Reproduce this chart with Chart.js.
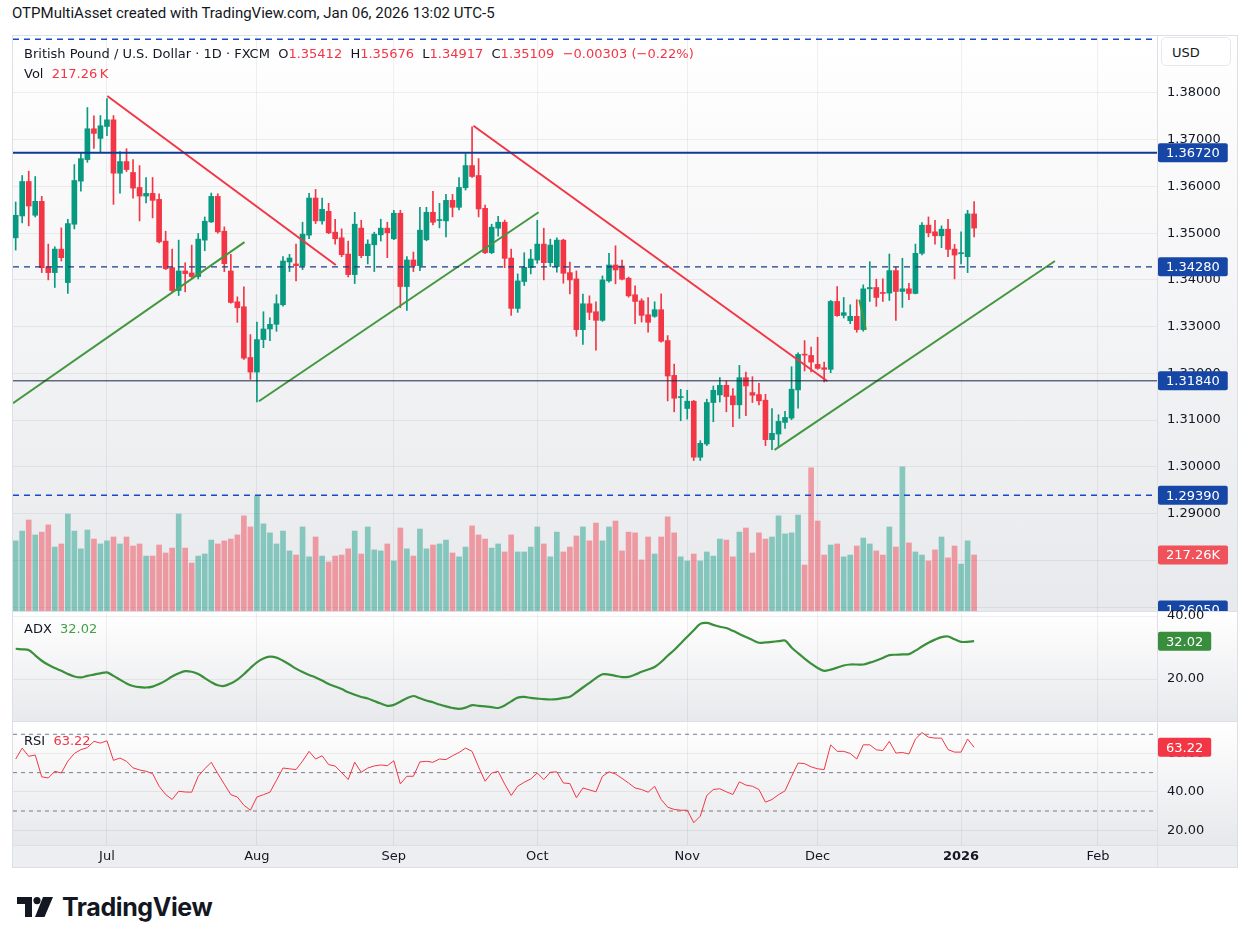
<!DOCTYPE html>
<html>
<head>
<meta charset="utf-8">
<script src="https://cdn.jsdelivr.net/npm/chart.js@4.4.1/dist/chart.umd.min.js"></script>
<style>
  body { margin: 0; width: 1249px; height: 944px; position: relative; overflow: hidden; background: #fff;
    font-family: "DejaVu Sans", sans-serif; color: #131722; }
  .abs { position: absolute; }
  .pane { position: absolute; left: 13px; width: 1224px; }
  #mainPane { top: 36px; height: 575px; background: linear-gradient(#ffffff, #e8e9ec); }
  #adxBg { top: 612px; height: 109px; background: linear-gradient(#ffffff, #e8e9ec); }
  #adxPane { top: 606px; height: 115px; }
  #rsiPane { top: 722px; height: 146px; background: linear-gradient(#ffffff 0%, #e7e8eb 84%, #edeef1 84%, #edeef1 100%); }
  .sep { position: absolute; background: #dcdfe6; }
  .txt { position: absolute; font-size: 13px; line-height: 18px; white-space: pre; z-index: 5; }
  .dn { color: #f23645; }
  .gr { color: #43a047; }
  #usd { left: 1161px; top: 37px; width: 70px; height: 29px; border-radius: 5px; background: #fff;
    border: 1px solid #e6e8ee; font-size: 13px; line-height: 29px; padding-left: 10px; box-sizing: border-box; z-index: 5; }
</style>
</head>
<body>
<div class="abs" style="left:12px;top:3px;font:15px/20px Roboto, sans-serif">OTPMultiAsset created with TradingView.com, Jan 06, 2026 13:02 UTC-5</div>

<div id="mainPane" class="pane"><canvas id="mainCanvas"></canvas></div>
<div id="adxBg" class="pane"></div>
<div id="rsiPane" class="pane"><canvas id="rsiCanvas"></canvas></div>

<div class="sep" style="left:12px;top:35px;width:1226px;height:1px"></div>
<div class="sep" style="left:12px;top:867px;width:1226px;height:1px"></div>
<div class="sep" style="left:12px;top:35px;width:1px;height:833px"></div>
<div class="sep" style="left:1237px;top:35px;width:1px;height:833px"></div>
<div class="sep" style="left:1157px;top:36px;width:1px;height:832px"></div>
<div class="sep" style="left:13px;top:611px;width:1224px;height:1px"></div>
<div class="sep" style="left:13px;top:721px;width:1224px;height:1px"></div>
<div class="sep" style="left:13px;top:845px;width:1224px;height:1px"></div>

<div id="adxPane" class="pane"><canvas id="adxCanvas"></canvas></div>

<div id="usd" class="abs">USD</div>
<div id="legend1" class="txt" style="left:24px;top:45px"></div>
<div id="legend2" class="txt" style="left:24px;top:65px"></div>
<div id="legendAdx" class="txt" style="left:24px;top:620px"></div>
<div id="legendRsi" class="txt" style="left:24px;top:732px"></div>

<div class="abs" style="left:17px;top:893px;height:28px;display:flex;align-items:center">
  <svg width="36" height="20" viewBox="0 0 36 20">
    <path d="M0 0h15v20H8V7H0z" fill="#131722"/>
    <circle cx="20" cy="3.6" r="3.6" fill="#131722"/>
    <path d="M26 0h10l-8.5 20h-9.5z" fill="#131722"/>
  </svg>
  <span style="font:700 25px Inter, Roboto, sans-serif;margin-left:9px;letter-spacing:-0.4px">TradingView</span>
</div>

<script>
const FONT = '"DejaVu Sans", sans-serif'
const UP = '#089981'
const DOWN = '#f23645'
const GRID = 'rgba(42, 46, 57, 0.07)'
const X_MIN = -0.41
const X_MAX = 175.05

// daily GBP/USD bars, Jun 11 2025 .. Jan 6 2026
const opens = [
  1.34900, 1.35368, 1.36106, 1.35383, 1.35681, 1.34276, 1.34156, 1.34659, 1.33943, 1.35191,
  1.36113, 1.36574, 1.37234, 1.37028, 1.37283, 1.37425, 1.36283, 1.36532, 1.36298, 1.35978,
  1.35794, 1.35851, 1.35723, 1.34829, 1.34262, 1.33773, 1.34191, 1.34149, 1.34071, 1.34851,
  1.35241, 1.35787, 1.35042, 1.34191, 1.33532, 1.33425, 1.32340, 1.32028, 1.32723, 1.32950,
  1.33050, 1.33468, 1.34383, 1.34341, 1.34305, 1.34958, 1.35752, 1.35263, 1.35468, 1.35021,
  1.34901, 1.34553, 1.34114, 1.35107, 1.34518, 1.34752, 1.34965, 1.35107, 1.34880, 1.35426,
  1.33858, 1.34426, 1.34305, 1.34858, 1.35447, 1.35270, 1.35263, 1.35702, 1.35553, 1.35972,
  1.36447, 1.36234, 1.35532, 1.34582, 1.35106, 1.35234, 1.34468, 1.33390, 1.33965, 1.34262,
  1.34425, 1.34766, 1.34369, 1.34284, 1.34851, 1.34156, 1.34021, 1.32936, 1.33489, 1.33319,
  1.33135, 1.33979, 1.34319, 1.34298, 1.34035, 1.33681, 1.33553, 1.33255, 1.33220, 1.33362,
  1.32702, 1.31957, 1.31482, 1.31248, 1.31404, 1.30206, 1.30489, 1.31376, 1.31539, 1.31745,
  1.31518, 1.31327, 1.31908, 1.31589, 1.31546, 1.31426, 1.30582, 1.30702, 1.30951, 1.31043,
  1.31646, 1.32405, 1.32383, 1.32192, 1.32121, 1.32086, 1.33539, 1.33241, 1.33128, 1.33220,
  1.32937, 1.33809, 1.33837, 1.33731, 1.33717, 1.34199, 1.33752, 1.33809, 1.33710, 1.34568,
  1.35171, 1.35029, 1.34944, 1.35085, 1.34660, 1.34560, 1.34497, 1.35412
]
const highs = [
  1.35666, 1.36234, 1.36326, 1.36212, 1.35787, 1.34766, 1.34709, 1.35113, 1.35298, 1.36468,
  1.36730, 1.37688, 1.37510, 1.37517, 1.37879, 1.37517, 1.36744, 1.36808, 1.36574, 1.36446,
  1.36191, 1.36191, 1.35844, 1.35042, 1.34659, 1.34851, 1.34368, 1.34744, 1.34993, 1.35347,
  1.35858, 1.35844, 1.35134, 1.34546, 1.33638, 1.33851, 1.32829, 1.33099, 1.33319, 1.33191,
  1.33681, 1.34497, 1.34546, 1.34766, 1.35234, 1.35851, 1.35936, 1.35752, 1.35639, 1.35298,
  1.35092, 1.34830, 1.35447, 1.35277, 1.34858, 1.35021, 1.35298, 1.35234, 1.35490, 1.35490,
  1.34497, 1.34596, 1.35553, 1.35553, 1.35894, 1.35639, 1.35830, 1.35830, 1.36192, 1.36702,
  1.37277, 1.36596, 1.35603, 1.35192, 1.35362, 1.35280, 1.34659, 1.34128, 1.34581, 1.34652,
  1.35276, 1.35106, 1.34872, 1.34901, 1.34872, 1.34383, 1.34191, 1.33695, 1.33659, 1.33532,
  1.34085, 1.34567, 1.34730, 1.34425, 1.34060, 1.33872, 1.33596, 1.33624, 1.33532, 1.33702,
  1.32808, 1.32198, 1.31659, 1.31638, 1.31420, 1.30560, 1.31447, 1.31730, 1.31908, 1.31837,
  1.31674, 1.32171, 1.32029, 1.31929, 1.31788, 1.31553, 1.31249, 1.31114, 1.31185, 1.32142,
  1.32440, 1.32702, 1.32561, 1.32773, 1.32241, 1.33561, 1.33858, 1.33624, 1.33468, 1.33575,
  1.33894, 1.34390, 1.34015, 1.34022, 1.34554, 1.34270, 1.34461, 1.33929, 1.34766, 1.35227,
  1.35348, 1.35277, 1.35156, 1.35298, 1.34759, 1.35029, 1.35490, 1.35676
]
const lows = [
  1.34638, 1.35220, 1.35156, 1.35347, 1.34156, 1.34000, 1.33837, 1.34404, 1.33709, 1.35092,
  1.35900, 1.36517, 1.36815, 1.36730, 1.37085, 1.35617, 1.35858, 1.36319, 1.35751, 1.35262,
  1.35645, 1.35326, 1.34790, 1.34220, 1.33750, 1.33666, 1.33744, 1.34050, 1.34021, 1.34624,
  1.35227, 1.35000, 1.34177, 1.33500, 1.33092, 1.32300, 1.31872, 1.31390, 1.32550, 1.32700,
  1.32900, 1.33440, 1.34178, 1.33979, 1.34220, 1.34880, 1.35206, 1.35192, 1.34990, 1.34766,
  1.34497, 1.34064, 1.33922, 1.34475, 1.34341, 1.34178, 1.34830, 1.34475, 1.34860, 1.33404,
  1.33348, 1.34178, 1.34199, 1.34837, 1.35178, 1.35114, 1.34922, 1.35348, 1.35497, 1.35922,
  1.36192, 1.35348, 1.34560, 1.34560, 1.34936, 1.34262, 1.33241, 1.33305, 1.33879, 1.34128,
  1.34354, 1.34000, 1.34284, 1.34163, 1.33929, 1.33702, 1.32794, 1.32617, 1.33149, 1.32496,
  1.33113, 1.33950, 1.33915, 1.34000, 1.33631, 1.33064, 1.33099, 1.32879, 1.33200, 1.32670,
  1.31411, 1.31177, 1.30986, 1.31021, 1.30135, 1.30135, 1.30454, 1.30964, 1.31390, 1.31177,
  1.30858, 1.31036, 1.31093, 1.31376, 1.31327, 1.30454, 1.30369, 1.30419, 1.30823, 1.31008,
  1.31256, 1.32050, 1.32029, 1.32086, 1.31816, 1.32015, 1.33220, 1.33185, 1.33064, 1.32880,
  1.32901, 1.33539, 1.33433, 1.33539, 1.33561, 1.33135, 1.33412, 1.33575, 1.33700, 1.34532,
  1.34922, 1.34766, 1.34688, 1.34497, 1.34022, 1.34341, 1.34156, 1.34917
]
const closes = [
  1.35383, 1.36106, 1.35581, 1.35681, 1.34262, 1.34156, 1.34659, 1.34475, 1.35205, 1.36127,
  1.36595, 1.37234, 1.37134, 1.37298, 1.37425, 1.36283, 1.36532, 1.36361, 1.35964, 1.35794,
  1.35851, 1.35702, 1.34815, 1.34241, 1.33773, 1.34191, 1.34135, 1.34071, 1.34872, 1.35255,
  1.35787, 1.35028, 1.34347, 1.33517, 1.33404, 1.32326, 1.32028, 1.32723, 1.32950, 1.33050,
  1.33490, 1.34404, 1.34468, 1.34305, 1.34979, 1.35752, 1.35263, 1.35511, 1.35007, 1.34880,
  1.34539, 1.34114, 1.35192, 1.34518, 1.34766, 1.34979, 1.35107, 1.35007, 1.35426, 1.33858,
  1.34426, 1.34305, 1.35064, 1.35447, 1.35234, 1.35284, 1.35702, 1.35553, 1.35979, 1.36447,
  1.36213, 1.35518, 1.34582, 1.35128, 1.35234, 1.34461, 1.33390, 1.33979, 1.34269, 1.34447,
  1.34766, 1.34369, 1.34745, 1.34851, 1.34142, 1.34000, 1.32936, 1.33489, 1.33305, 1.33135,
  1.34000, 1.34319, 1.34213, 1.34014, 1.33659, 1.33539, 1.33241, 1.33092, 1.33362, 1.32688,
  1.31943, 1.31468, 1.31495, 1.31404, 1.30206, 1.30503, 1.31376, 1.31638, 1.31745, 1.31503,
  1.31327, 1.31908, 1.31731, 1.31532, 1.31412, 1.30582, 1.30717, 1.30972, 1.31057, 1.31660,
  1.32405, 1.32390, 1.32241, 1.32107, 1.32086, 1.33539, 1.33234, 1.33298, 1.33220, 1.32937,
  1.33809, 1.33837, 1.33624, 1.33710, 1.34199, 1.33752, 1.33809, 1.33710, 1.34568, 1.35171,
  1.35007, 1.34944, 1.35085, 1.34653, 1.34532, 1.34582, 1.35412, 1.35109
]
// volume in thousands
const volumes = [
  272, 310, 353, 295, 306, 334, 248, 260, 376, 310,
  241, 314, 279, 260, 272, 287, 260, 287, 252, 260,
  213, 213, 256, 225, 244, 376, 244, 186, 213, 221,
  275, 260, 272, 279, 295, 369, 326, 446, 338, 303,
  260, 310, 233, 217, 326, 210, 287, 213, 190, 213,
  217, 241, 310, 221, 326, 237, 233, 260, 194, 322,
  241, 213, 318, 241, 256, 260, 275, 225, 210, 248,
  330, 295, 279, 244, 260, 229, 295, 229, 229, 248,
  326, 260, 210, 306, 229, 248, 291, 326, 272, 341,
  272, 326, 349, 233, 306, 303, 198, 287, 221, 287,
  365, 303, 210, 194, 221, 194, 229, 213, 279, 275,
  210, 306, 322, 225, 303, 279, 287, 369, 299, 303,
  372, 178, 555, 349, 217, 256, 260, 210, 217, 252,
  283, 260, 233, 217, 326, 248, 559, 264, 229, 217,
  194, 237, 287, 206, 252, 182, 272, 217.26
]
const adx = [
  29.6, 29.4, 29.2, 27.5, 25.8, 24.5, 23.5, 22.6, 21.6, 20.8,
  20.5, 21.0, 21.4, 21.8, 22.1, 21.0, 19.8, 18.6, 17.8, 17.4,
  17.3, 17.6, 18.4, 19.5, 20.8, 21.8, 22.5, 22.3, 21.6, 20.3,
  19.0, 18.0, 17.8, 18.6, 19.8, 21.5, 23.5, 25.3, 26.5, 27.1,
  26.8, 25.8, 24.6, 23.3, 22.2, 21.3, 20.5, 19.5, 18.4, 17.6,
  16.8, 15.8, 15.0, 14.3, 13.8, 13.0, 12.2, 11.5, 11.8, 12.8,
  13.9, 14.6, 13.9, 13.2, 12.6, 11.9, 11.3, 10.8, 10.5, 10.9,
  11.7, 11.5, 11.3, 11.1, 10.8, 11.6, 12.9, 14.1, 14.3, 14.0,
  13.8, 13.6, 13.5, 13.6, 14.0, 14.4, 15.8, 17.3, 18.8, 20.3,
  21.5, 21.4, 21.0, 20.6, 20.7, 21.4, 22.3, 23.0, 23.8, 25.4,
  27.4, 29.2, 31.3, 33.4, 35.5, 37.5, 37.8, 37.2, 36.6, 36.2,
  35.3, 34.3, 33.3, 32.4, 31.5, 31.6, 31.8, 32.0, 32.2, 30.0,
  28.2, 26.5, 24.9, 23.5, 22.6, 23.0, 23.6, 24.3, 24.6, 24.6,
  24.6, 25.2, 25.9, 26.7, 27.6, 27.7, 27.8, 27.9, 29.0, 30.3,
  31.5, 32.5, 33.3, 33.5, 32.6, 31.8, 31.8, 32.02
]
const rsi = [
  57.1, 62.8, 58.5, 59.2, 47.8, 47.2, 50.7, 49.8, 56.0, 60.0,
  62.0, 63.0, 66.3, 65.4, 66.6, 56.4, 57.6, 55.9, 52.5, 51.4,
  50.7, 49.5, 42.9, 38.6, 36.0, 40.3, 39.9, 39.8, 48.1, 52.0,
  55.4, 49.5, 44.0, 38.5, 37.3, 33.0, 30.4, 37.3, 38.5, 39.8,
  46.0, 52.4, 52.0, 51.6, 56.0, 61.1, 57.1, 58.8, 54.2, 53.4,
  50.0, 46.4, 55.4, 50.2, 52.4, 53.5, 54.0, 53.6, 56.2, 44.1,
  48.1, 48.1, 55.6, 55.9, 55.4, 57.1, 56.8, 58.8, 60.5, 62.8,
  61.1, 53.0, 45.5, 49.8, 50.7, 44.0, 38.1, 42.9, 45.0, 46.7,
  49.8, 46.4, 50.2, 50.4, 44.6, 44.3, 36.9, 42.0, 41.0, 40.0,
  48.1, 50.4, 49.3, 47.0, 44.6, 42.0, 41.2, 39.8, 42.9, 36.0,
  32.0, 30.8, 30.4, 30.4, 23.9, 27.3, 38.1, 41.2, 41.6, 40.0,
  38.6, 45.2, 43.5, 42.9, 41.2, 34.6, 36.0, 38.5, 40.5, 48.0,
  55.0, 54.7, 53.0, 52.0, 51.6, 64.5, 61.1, 61.1, 60.0, 57.1,
  64.5, 64.5, 61.9, 61.5, 66.3, 60.2, 60.5, 59.7, 67.5, 70.9,
  68.5, 68.0, 68.0, 62.0, 60.7, 60.7, 67.5, 63.22
]
const priceTicks = [1.27, 1.28, 1.29, 1.30, 1.31, 1.32, 1.33, 1.34, 1.35, 1.36, 1.37, 1.38]
const monthIndex = [14, 37, 58, 80, 103, 123, 145, 166]
const monthLabels = ['Jul', 'Aug', 'Sep', 'Oct', 'Nov', 'Dec', '2026', 'Feb']
// horizontal levels and trend lines (bar index, price)
const levelTop = 1.3915
const levelStrong = 1.3672
const levelMid = 1.3428
const levelLow = 1.3184
const levelSupport = 1.2939
const levelOffscreen = 1.2605
const redLines = [[14.05, 1.37936, 49.1, 1.34319], [70.2, 1.37298, 124.5, 1.31830]]
const greenLines = [[-0.41, 1.31362, 35.1, 1.34809], [37.3, 1.31404, 80.2, 1.35447],
  [116.4, 1.30362, 159.4, 1.34404], [129.4, 1.33574, 130.4, 1.32936]]

const last = closes.length - 1
const candleColors = closes.map(function (c, i) { return c >= opens[i] ? UP : DOWN })
const volColors = closes.map(function (c, i) { return c >= opens[i] ? 'rgba(8,153,129,0.45)' : 'rgba(242,54,69,0.45)' })

// legends
const chg = closes[last] - closes[last - 1]
const pct = chg / closes[last - 1] * 100
const fmt = function (v) { return v.toFixed(5) }
const minus = function (s) { return s.replace('-', '\u2212') }
document.getElementById('legend1').innerHTML =
  'British Pound / U.S. Dollar \u00b7 1D \u00b7 FXCM  O<span class="dn">' + fmt(opens[last]) +
  '</span>  H<span class="dn">' + fmt(highs[last]) + '</span>  L<span class="dn">' + fmt(lows[last]) +
  '</span>  C<span class="dn">' + fmt(closes[last]) + '  ' + minus(chg.toFixed(5)) + ' (' + minus(pct.toFixed(2)) + '%)</span>'
document.getElementById('legend2').innerHTML = 'Vol  <span class="dn">' + volumes[last].toFixed(2) + '\u202fK</span>'
document.getElementById('legendAdx').innerHTML = 'ADX  <span class="gr">' + adx[last].toFixed(2) + '</span>'
document.getElementById('legendRsi').innerHTML = 'RSI  <span class="dn">' + rsi[last].toFixed(2) + '</span>'

Chart.defaults.font.family = FONT
Chart.defaults.font.size = 13
Chart.defaults.color = '#131722'

function roundRect(ctx, x, y, w, h, r) {
  ctx.beginPath()
  ctx.moveTo(x + r, y)
  ctx.lineTo(x + w - r, y)
  ctx.quadraticCurveTo(x + w, y, x + w, y + r)
  ctx.lineTo(x + w, y + h - r)
  ctx.quadraticCurveTo(x + w, y + h, x + w - r, y + h)
  ctx.lineTo(x + r, y + h)
  ctx.quadraticCurveTo(x, y + h, x, y + h - r)
  ctx.lineTo(x, y + r)
  ctx.quadraticCurveTo(x, y, x + r, y)
  ctx.closePath()
}

// coloured value boxes on the right axis
const sideLabels = {
  id: 'sideLabels',
  afterDraw: function (chart, args, opts) {
    const ctx = chart.ctx
    const area = chart.chartArea
    ;(opts.items || []).forEach(function (it) {
      let y = chart.scales[it.axis].getPixelForValue(it.value)
      y = Math.min(y, area.bottom - 1)
      ctx.save()
      ctx.font = '13px ' + FONT
      const w = ctx.measureText(it.text).width + 16
      ctx.fillStyle = it.bg
      roundRect(ctx, area.right + 1, y - 9.5, w, 19, 2)
      ctx.fill()
      ctx.fillStyle = '#ffffff'
      ctx.textBaseline = 'middle'
      ctx.fillText(it.text, area.right + 9, y + 1)
      ctx.restore()
    })
  }
}

function xAxis(showLabels) {
  return {
    type: 'linear',
    min: X_MIN,
    max: X_MAX,
    offset: false,
    afterBuildTicks: function (s) { s.ticks = monthIndex.map(function (v) { return { value: v } }) },
    grid: { color: GRID, drawTicks: false, offset: false },
    border: { display: false },
    ticks: {
      display: showLabels,
      autoSkip: false,
      maxRotation: 0,
      padding: 4,
      color: '#131722',
      font: function (c) { return { family: FONT, size: 13, weight: monthLabels[c.index] === '2026' ? 'bold' : 'normal' } },
      callback: function (v, i) { return monthLabels[i] }
    },
    afterFit: function (s) { s.height = showLabels ? 23 : 0; s.paddingLeft = 0; s.paddingRight = 0 }
  }
}

function rightAxis(min, max, ticks, digits) {
  return {
    position: 'right',
    min: min,
    max: max,
    afterBuildTicks: function (s) { s.ticks = ticks.map(function (v) { return { value: v } }) },
    grid: { color: GRID, drawTicks: false },
    border: { display: false },
    ticks: { padding: 10, color: '#131722', callback: function (v) { return v.toFixed(digits) } },
    afterFit: function (s) { s.width = 80; s.paddingTop = 0; s.paddingBottom = 0 }
  }
}

function hLine(value, color, width, dash) {
  return {
    type: 'line', yAxisID: 'y', order: 0,
    data: [{ x: X_MIN, y: value }, { x: X_MAX, y: value }],
    borderColor: color, borderWidth: width, borderDash: dash || [], pointRadius: 0
  }
}

function segment(s, color) {
  return {
    type: 'line', yAxisID: 'y', order: 0,
    data: [{ x: s[0], y: s[1] }, { x: s[2], y: s[3] }],
    borderColor: color, borderWidth: 2, pointRadius: 0
  }
}

const baseOptions = {
  responsive: true,
  maintainAspectRatio: false,
  animation: false,
  events: []
}

// price + volume pane
new Chart(document.getElementById('mainCanvas'), {
  type: 'bar',
  data: {
    datasets: [
      {
        label: 'Volume', yAxisID: 'yVol', order: 5, grouped: false,
        data: volumes.map(function (v, i) { return { x: i, y: v } }),
        backgroundColor: volColors, barThickness: 5
      },
      {
        label: 'Wick', yAxisID: 'y', order: 3, grouped: false,
        data: lows.map(function (l, i) { return { x: i, y: [l, highs[i]] } }),
        backgroundColor: candleColors, barThickness: 1
      },
      {
        label: 'Body', yAxisID: 'y', order: 2, grouped: false, minBarLength: 1,
        data: opens.map(function (o, i) { return { x: i, y: [Math.min(o, closes[i]), Math.max(o, closes[i])] } }),
        backgroundColor: candleColors, barThickness: 5
      },
      hLine(levelTop, '#1848cc', 1.5, [6, 5]),
      hLine(levelStrong, '#0d3b96', 2),
      hLine(levelMid, '#1b3a88', 1.3, [6, 5]),
      hLine(levelLow, '#1a2448', 1),
      hLine(levelSupport, '#1848cc', 1.5, [6, 5])
    ].concat(redLines.map(function (s) { return segment(s, '#f23645') }))
      .concat(greenLines.map(function (s) { return segment(s, '#43973f') }))
  },
  options: Object.assign({}, baseOptions, {
    layout: { padding: 0 },
    plugins: {
      legend: { display: false },
      tooltip: { enabled: false },
      sideLabels: {
        items: [
          { axis: 'y', value: levelStrong, text: levelStrong.toFixed(5), bg: '#1747a6' },
          { axis: 'y', value: levelMid, text: levelMid.toFixed(5), bg: '#1747a6' },
          { axis: 'y', value: levelLow, text: levelLow.toFixed(5), bg: '#1747a6' },
          { axis: 'y', value: levelSupport, text: levelSupport.toFixed(5), bg: '#1747a6' },
          { axis: 'y', value: levelOffscreen, text: levelOffscreen.toFixed(5), bg: '#1747a6' },
          { axis: 'yVol', value: volumes[last], text: volumes[last].toFixed(2) + 'K', bg: '#f0525b' }
        ]
      }
    },
    scales: {
      x: xAxis(false),
      y: rightAxis(1.26915, 1.39219, priceTicks, 5),
      yVol: { display: false, min: 0, max: 2230 }
    }
  }),
  plugins: [sideLabels]
})

// ADX pane (canvas starts 6px above the pane so the top tick label is not cut)
new Chart(document.getElementById('adxCanvas'), {
  type: 'line',
  data: {
    datasets: [{
      data: adx.map(function (v, i) { return { x: i, y: v } }),
      borderColor: '#3a8f3a', borderWidth: 2.2, pointRadius: 0, tension: 0.3
    }]
  },
  options: Object.assign({}, baseOptions, {
    layout: { padding: { top: 6 } },
    plugins: {
      legend: { display: false },
      tooltip: { enabled: false },
      sideLabels: { items: [{ axis: 'y', value: adx[last], text: adx[last].toFixed(2), bg: '#388e3c' }] }
    },
    scales: { x: xAxis(false), y: rightAxis(6.67, 41.27, [20, 40], 2) }
  }),
  plugins: [sideLabels]
})

// RSI pane with the time axis
function band(value) {
  return {
    data: [{ x: X_MIN, y: value }, { x: X_MAX, y: value }],
    borderColor: '#787b86', borderWidth: 1, borderDash: [4, 4], pointRadius: 0
  }
}
new Chart(document.getElementById('rsiCanvas'), {
  type: 'line',
  data: {
    datasets: [
      {
        data: rsi.map(function (v, i) { return { x: i, y: v } }),
        borderColor: '#f23645', borderWidth: 1, pointRadius: 0, tension: 0
      },
      band(70), band(50), band(30)
    ]
  },
  options: Object.assign({}, baseOptions, {
    layout: { padding: 0 },
    plugins: {
      legend: { display: false },
      tooltip: { enabled: false },
      sideLabels: { items: [{ axis: 'y', value: rsi[last], text: rsi[last].toFixed(2), bg: '#f23645' }] }
    },
    scales: { x: xAxis(true), y: rightAxis(12.27, 76.4, [20, 40, 60], 2) }
  }),
  plugins: [sideLabels]
})
</script>
</body>
</html>
